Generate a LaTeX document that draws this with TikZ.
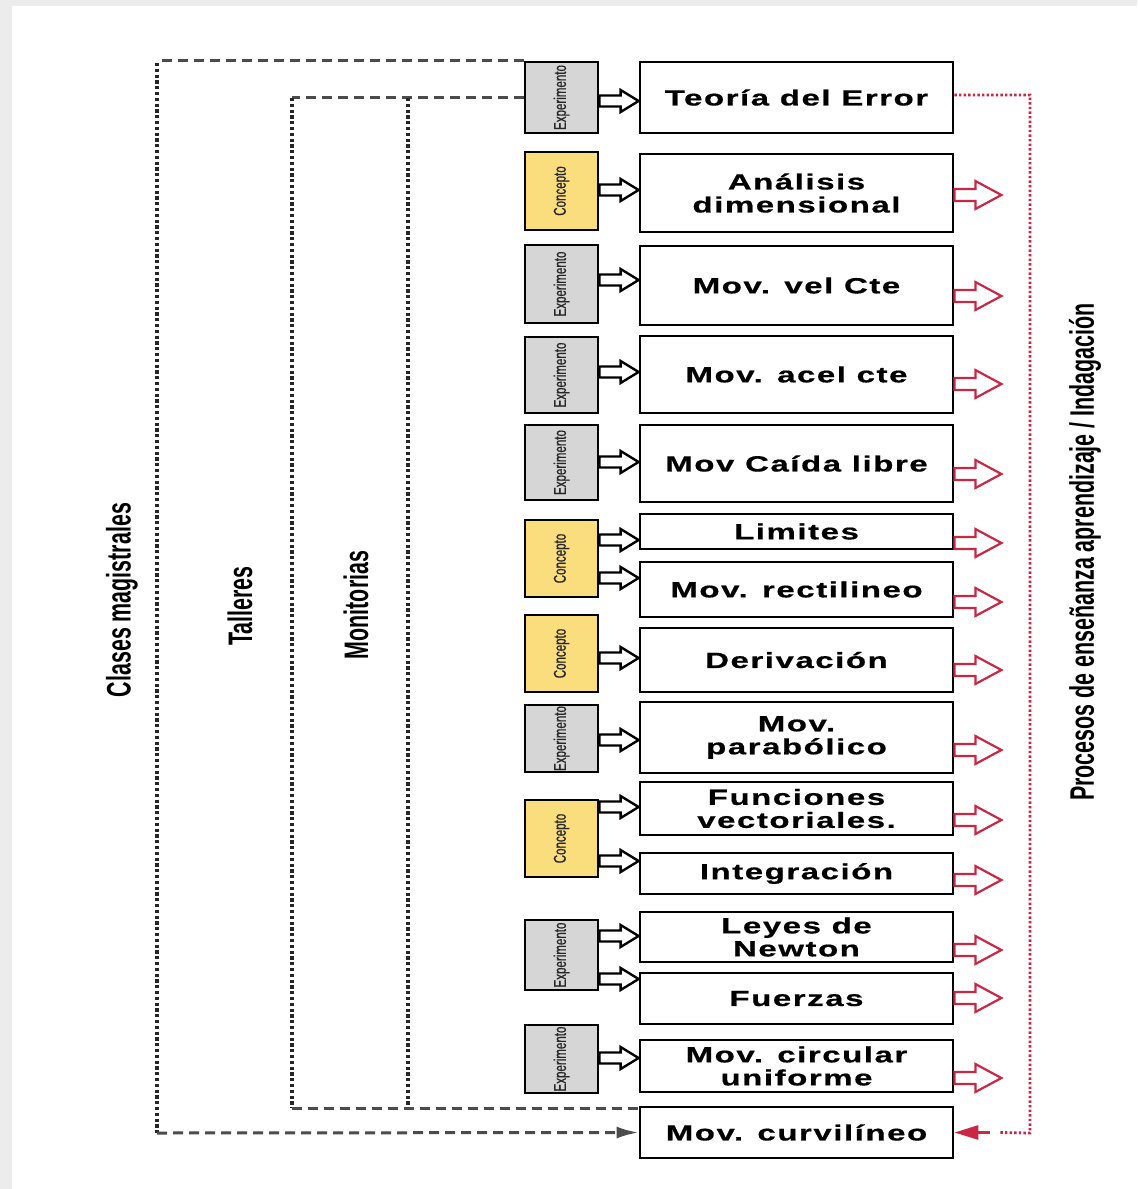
\documentclass[tikz,border=0pt]{standalone}
\usepackage{fontspec}
\setmainfont{Liberation Sans}
\newfontfamily\boxfont[FakeStretch=1.5,LetterSpace=7,FakeBold=0.6]{Liberation Sans Bold}
\newfontfamily\narrowfont[FakeStretch=0.68,FakeBold=0.8]{Liberation Sans}
\newfontfamily\sidefont[FakeStretch=0.63]{Liberation Sans Bold}
\usetikzlibrary{arrows.meta,calc}

\definecolor{expgray}{RGB}{214,214,214}
\definecolor{conyellow}{RGB}{250,222,125}
\definecolor{procred}{RGB}{200,40,70}
\definecolor{framegray}{RGB}{236,236,236}

% hollow block arrow: style, start, end, half shaft, head length, half head
\newcommand{\hollowarrow}[6]{%
	\draw[#1] let \p1=(#2), \p2=(#3) in
		(\x1,\y1+#4) -- (\x2-#5,\y1+#4) -- (\x2-#5,\y1+#6) -- (\x2,\y1)
		-- (\x2-#5,\y1-#6) -- (\x2-#5,\y1-#4) -- (\x1,\y1-#4) -- cycle;}

\begin{document}
\begin{tikzpicture}[x=0.5pt, y=-0.5pt,
	tema/.style={draw, line width=1.4pt, fill=white, minimum width=156.5pt, inner sep=0pt, align=center, font=\boxfont\fontsize{11}{11.5}\selectfont},
	tipo/.style={draw, line width=1.3pt, minimum width=36.5pt, inner sep=0pt, text=black!85, font=\narrowfont\fontsize{8.5}{8.5}\selectfont},
	lado/.style={rotate=90, inner sep=0pt, font=\sidefont\fontsize{17}{17}\selectfont},
	blkarrow/.style={draw=black, line width=1.2pt, fill=white, line join=miter},
	redarrow/.style={draw=procred, line width=1.1pt, fill=white, line join=miter},
	dashline/.style={draw=black!70, line width=1.5pt, dash pattern=on 5pt off 3pt},
	dotline/.style={draw=black!85, line width=2pt, dash pattern=on 1.6pt off 1.3pt},
	reddot/.style={draw=procred, line width=1.4pt, dash pattern=on 1.2pt off 1.1pt}]
	\fill[framegray] (0,0) rectangle (1137,1189);
	\fill[white] (12,6) rectangle (1137,1189);
	\useasboundingbox (0,0) rectangle (1137,1189);

	% temas
	\foreach \nm/\ya/\yb/\txt in {ter/62/133/{Teoría del Error}, adi/154/232/{Análisis\\dimensional},
		mvc/246/325/{Mov. vel Cte}, mac/336/413/{Mov. acel cte}, mcl/425/502/{Mov Caída libre},
		lim/514/549/{Limites}, mre/562/617/{Mov. rectilineo}, der/628/692/{Derivación},
		mpa/702/773/{Mov.\\parabólico}, fve/782/835/{Funciones\\vectoriales.}, int/853/894/{Integración},
		lne/912/962/{Leyes de\\Newton}, fue/973/1024/{Fuerzas}, mcu/1040/1092/{Mov. circular\\uniforme},
		mcv/1107/1158/{Mov. curvilíneo}}
		\node[tema, minimum height={(\yb-\ya)*0.5pt}] (\nm) at (796.5,{(\ya+\yb)/2}) {\txt};

	% experimento / concepto
	\foreach \nm/\ya/\yb/\fc/\lbl in {e1/62/133/expgray/Experimento, c2/152/230/conyellow/Concepto,
		e3/245/323/expgray/Experimento, e4/337/413/expgray/Experimento, e5/425/500/expgray/Experimento,
		c6/520/597/conyellow/Concepto, c7/615/692/conyellow/Concepto, e8/705/772/expgray/Experimento,
		c9/800/877/conyellow/Concepto, e10/920/990/expgray/Experimento, e11/1025/1093/expgray/Experimento}
		\node[tipo, fill=\fc, minimum height={(\yb-\ya)*0.5pt}] (\nm) at (561.5,{(\ya+\yb)/2}) {\rotatebox{90}{\lbl}};

	% flechas
	\foreach \src/\dst/\yy in {e1/ter/101, c2/adi/190, e3/mvc/280, e4/mac/372, e5/mcl/462,
		c6/lim/540, c6/mre/578, c7/der/658, e8/mpa/740, c9/fve/807, c9/int/861,
		e10/lne/936, e10/fue/979, e11/mcu/1058}
		{\hollowarrow{blkarrow}{\src.east |- 0,\yy}{\dst.west |- 0,\yy}{2.75pt}{9pt}{5.5pt}}
	\foreach \dst/\yy in {adi/195, mvc/296, mac/384, mcl/474, lim/543, mre/602, der/670,
		mpa/750, fve/820, int/880, lne/950, fue/998, mcu/1078}
		{\hollowarrow{redarrow}{\dst.east |- 0,\yy}{[xshift=23.5pt]\dst.east |- 0,\yy}{3pt}{13pt}{7pt}}

	% clases magistrales
	\coordinate (cm1) at (157,63);
	\coordinate (cm2) at (157,1133);
	\draw[dashline] (e1.north west) -- (cm1 |- e1.north west);
	\draw[dotline] (cm1) -- (cm2);
	\draw[dashline, -{Latex[length=11pt,width=6pt]}] (cm2) -- (mcv.west);
	\node[lado] (clases) at (122,600) {Clases magistrales};

	% talleres y monitorias
	\coordinate (ta1) at (292,98);
	\coordinate (ta2) at (292,1108);
	\coordinate (mo1) at (408,98);
	\coordinate (mo2) at (408,1108);
	\draw[dashline] (e1.west) -- (ta1 |- e1.west);
	\draw[dotline] (ta1) -- (ta2);
	\draw[dotline] (mo1) -- (mo2);
	\draw[dashline] (ta2) -- (ta2 -| mcv.north west);
	\node[lado] (talleres) at (240,606) {Talleres};
	\node[lado] (monitorias) at (356,605) {Monitorias};

	% procesos
	\coordinate (pr1) at (1030,95);
	\coordinate (pr2) at (1030,1133);
	\draw[reddot] (ter.east |- pr1) -- (pr1) -- (pr2) -- ([xshift=22pt]mcv.east);
	\draw[procred, line width=1.4pt, -{Triangle[length=12pt,width=7pt]}] ([xshift=18pt]mcv.east) -- (mcv.east);
	\node[lado] (procesos) at (1085,552) {Procesos de enseñanza aprendizaje / Indagación};
\end{tikzpicture}
\end{document}
